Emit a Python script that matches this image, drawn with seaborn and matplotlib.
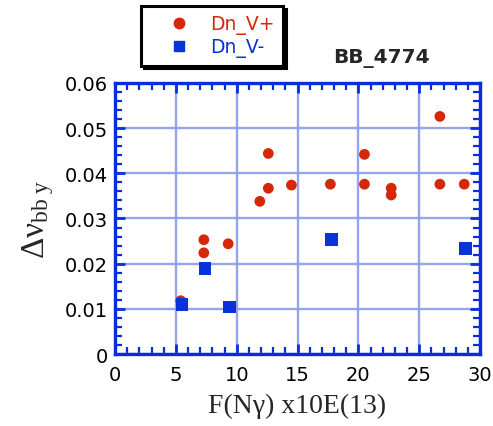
import numpy as np
import pandas as pd
import matplotlib
matplotlib.use('Agg')
import matplotlib.pyplot as plt
import seaborn as sns
from matplotlib.ticker import MultipleLocator, FixedLocator, FixedFormatter

# ── Dados ─────────────────────────────────────────────────────────────────────
x_plus = [5.4, 7.3, 7.3, 9.3, 11.9, 12.6, 12.6, 14.5, 17.7, 20.5, 20.5,
          22.7, 22.7, 26.7, 26.7, 28.7]
y_plus = [0.0118, 0.0253, 0.0224, 0.0244, 0.0338, 0.0444, 0.0367, 0.0374,
          0.0376, 0.0442, 0.0376, 0.0367, 0.0352, 0.0526, 0.0376, 0.0376]

x_minus = [5.5, 7.4, 9.4, 17.8, 28.8]
y_minus = [0.0109, 0.0190, 0.0104, 0.0254, 0.0233]

series_names = ['Dn_V+', 'Dn_V-']
x_ticks = [0, 5, 10, 15, 20, 25, 30]
y_ticks = [0, 0.01, 0.02, 0.03, 0.04, 0.05, 0.06]
y_tick_labels = ['0', '0.01', '0.02', '0.03', '0.04', '0.05', '0.06']

RED = '#d42806'
BLUE = '#0733d8'
SPINE = '#0a2cdc'
GRID = '#8a9aec'

df = pd.DataFrame({
    'F': x_plus + x_minus,
    'dnu': y_plus + y_minus,
    'serie': [series_names[0]] * len(x_plus) + [series_names[1]] * len(x_minus),
})

sns.set_style('white')
plt.rcParams['font.family'] = ['DejaVu Sans']
# letras gregas retas, estilo Times
plt.rcParams['mathtext.fontset'] = 'custom'
plt.rcParams['mathtext.rm'] = 'Liberation Serif'
plt.rcParams['mathtext.it'] = 'Liberation Serif'
plt.rcParams['mathtext.bf'] = 'Liberation Serif:bold'

fig = plt.figure(figsize=(4.93, 4.27), dpi=100)
ax = fig.add_axes([0.2333, 0.1686, 0.7404, 0.6347])

sns.scatterplot(data=df, x='F', y='dnu', hue='serie', style='serie',
                palette={series_names[0]: RED, series_names[1]: BLUE},
                markers={series_names[0]: 'o', series_names[1]: 's'},
                size='serie', sizes={series_names[0]: 60, series_names[1]: 85},
                linewidth=0, ax=ax, zorder=3, legend=False)

ax.set_xlim(0, 30)
ax.set_ylim(0, 0.06)
ax.xaxis.set_major_locator(FixedLocator(x_ticks))
ax.xaxis.set_minor_locator(MultipleLocator(1))
ax.yaxis.set_major_locator(FixedLocator(y_ticks))
ax.yaxis.set_major_formatter(FixedFormatter(y_tick_labels))
ax.yaxis.set_minor_locator(MultipleLocator(0.002))

ax.grid(True, which='major', color=GRID, linewidth=1.7, alpha=0.9, zorder=0)
ax.set_axisbelow(True)
for s in ax.spines.values():
    s.set_color(SPINE)
    s.set_linewidth(2.4)
    s.set_visible(True)

ax.tick_params(which='both', direction='in', top=True, right=True,
               bottom=True, left=True, color=SPINE)
ax.tick_params(which='major', length=7, width=2, labelsize=14,
               labelcolor='black')
ax.tick_params(axis='x', which='major', pad=8)
ax.tick_params(axis='y', which='major', pad=5)
ax.tick_params(which='minor', length=5, width=1.6)

ax.set_xlabel('F(Nγ) x10E(13)', family='Liberation Serif', fontsize=20,
              labelpad=6)
ax.set_ylabel(r'$\Delta\nu_{\mathrm{bb\ y}}$', fontsize=24, labelpad=6)

fig.text(0.773, 0.864, 'BB_4774', fontsize=14.5, fontweight='bold',
         ha='center', va='center')

# legenda com sombra preta
handles = [
    plt.Line2D([], [], marker='o', color=RED, linestyle='none', markersize=7.5),
    plt.Line2D([], [], marker='s', color=BLUE, linestyle='none', markersize=7.5),
]
leg = fig.legend(handles, series_names, loc='upper left',
                 bbox_to_anchor=(0.286, 0.984), borderaxespad=0,
                 fontsize=13.5, handlelength=3.2, handletextpad=0.05,
                 borderpad=0.45, labelspacing=0.15, fancybox=False,
                 shadow={'color': 'black', 'alpha': 1}, framealpha=1)
leg.get_frame().set_edgecolor('black')
leg.get_frame().set_linewidth(2.2)
for txt, c in zip(leg.get_texts(), [RED, BLUE]):
    txt.set_color(c)

fig.savefig('out.png', dpi=100)
